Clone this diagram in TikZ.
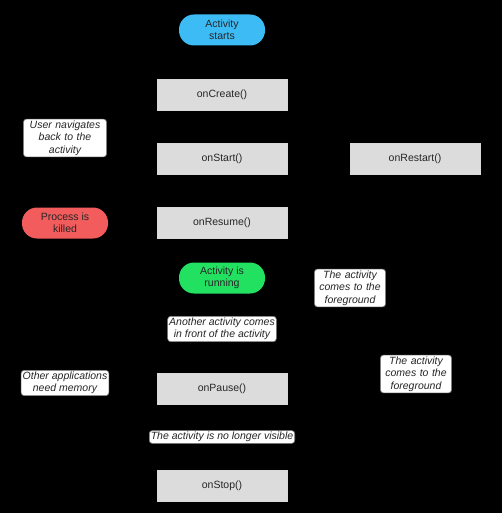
\documentclass[tikz,border=0pt]{standalone}
\usepackage{fontspec}
\setmainfont{Liberation Sans}
\usetikzlibrary{arrows.meta}
\definecolor{stepgray}{HTML}{DCDCDC}
\definecolor{startblue}{HTML}{3DBBF5}
\definecolor{killred}{HTML}{F25C5C}
\definecolor{rungreen}{HTML}{22E060}
\pgfdeclarelayer{back}
\pgfdeclarelayer{edges}
\pgfsetlayers{back,edges,main}
\begin{document}
\begin{tikzpicture}[x=1pt,y=-1pt,
  every node/.style={font=\fontsize{10.5}{12}\selectfont, align=center, inner sep=1pt, text=black!85},
  callback/.style={fill=stepgray, draw=white!85!black, line width=0.6pt, minimum width=130pt, minimum height=31pt},
  pill/.style={rounded corners=15pt, minimum width=86pt, minimum height=31pt, draw=none},
  note/.style={fill=white, draw=gray, rounded corners=3pt, line width=0.6pt, inner sep=1.5pt, font=\itshape\fontsize{10.5}{12.5}\selectfont},
  flow/.style={draw=black, line width=1pt, -{Stealth[length=6pt]}}]
  % background
  \begin{pgfonlayer}{back}
    \fill[black] (0,0) rectangle (502,513);
  \end{pgfonlayer}
  \useasboundingbox (0,0) rectangle (502,513);

  % states and callbacks
  \node[pill, fill=startblue] (start) at (222,30) {Activity\\starts};
  \node[callback] (create) at (222,95) {onCreate()};
  \node[callback] (startcb) at (222,159) {onStart()};
  \node[callback] (restart) at (415,159) {onRestart()};
  \node[pill, fill=killred] (killed) at (65,223) {Process is\\killed};
  \node[callback] (resume) at (222,223) {onResume()};
  \node[pill, fill=rungreen] (running) at (222,278) {Activity is\\running};
  \node[callback] (pause) at (222,389) {onPause()};
  \node[callback] (stop) at (222,486) {onStop()};

  % transitions (drawn in black, under the boxes)
  \begin{pgfonlayer}{edges}
    \draw[flow] (start) -- (create);
    \draw[flow] (create) -- (startcb);
    \draw[flow] (startcb) -- (resume);
    \draw[flow] (resume) -- (running);
    \draw[flow] (running) -- (pause);
    \draw[flow] (pause) -- (stop);
    \draw[flow] (restart) -- (startcb);
    \draw[flow] (stop.east) -| (restart.south);
    \draw[flow] (pause.east) -| (330,223) -- (resume.east);
    \draw[flow] (pause.west) -| (killed.south);
    \draw[flow] (killed.north) |- (create.west);
  \end{pgfonlayer}

  % transition labels
  \node[note, text width=80pt] (navback) at (65,138) {User navigates\\back to the\\activity};
  \node[note, text width=68pt] (fg1) at (350,288) {The activity\\comes to the\\foreground};
  \node[note] (front) at (222,329) {Another activity comes\\in front of the activity};
  \node[note] (memory) at (65,383) {Other applications\\need memory};
  \node[note, text width=68pt] (fg2) at (416,374) {The activity\\comes to the\\foreground};
  \node[note] (hidden) at (222,437) {The activity is no longer visible};
\end{tikzpicture}
\end{document}
